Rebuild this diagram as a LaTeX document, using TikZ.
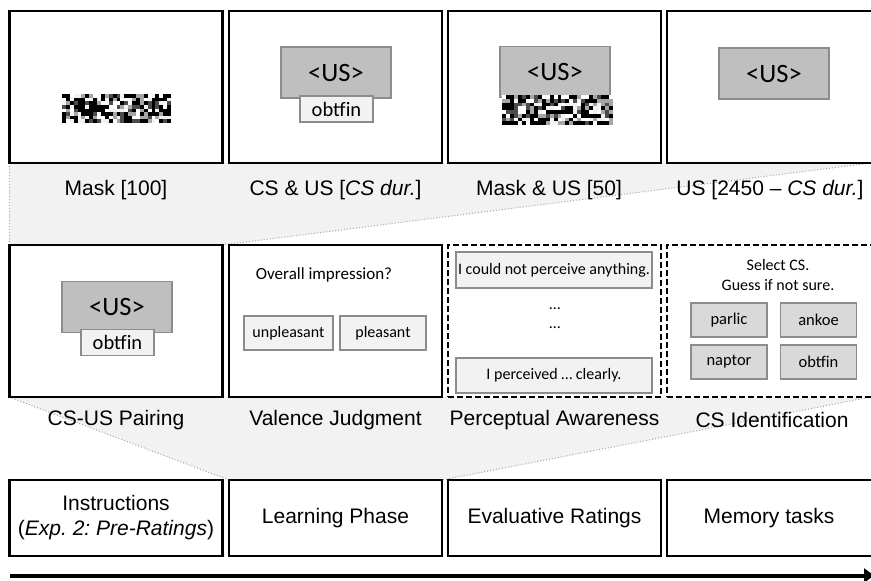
\documentclass[tikz,border=0pt]{standalone}
\usepackage{fontspec}
\setmainfont{Liberation Sans}
\newfontfamily\calfont{Carlito}
\usetikzlibrary{arrows.meta}
\frenchspacing
\definecolor{bandgray}{HTML}{F2F2F2}
\definecolor{usfill}{HTML}{BFBFBF}
\definecolor{edgegray}{HTML}{8C8C8C}
\definecolor{optfill}{HTML}{F2F2F2}
\definecolor{csfill}{HTML}{D9D9D9}
\definecolor{dotgray}{HTML}{A6A6A6}
\tikzset{
  screen/.style={draw=black, line width=2.6pt, minimum width=213pt, minimum height=152pt, inner sep=0pt},
  dscreen/.style={screen, dash pattern=on 6pt off 3pt},
  phase/.style={draw=black, line width=2.6pt, minimum width=213pt, minimum height=76pt, inner sep=0pt, align=center, font=\fontsize{21}{25}\selectfont},
  lbl/.style={font=\fontsize{21}{25}\selectfont, inner sep=0pt},
  usbox/.style={draw=edgegray, fill=usfill, line width=1.6pt, minimum width=110pt, minimum height=51pt, inner sep=0pt, font=\calfont\fontsize{26.5}{30}\selectfont},
  csbox/.style={draw=edgegray, fill=optfill, line width=1.6pt, minimum width=73pt, minimum height=26pt, inner sep=0pt, font=\calfont\fontsize{20.5}{24}\selectfont},
  optbox/.style={draw=edgegray, fill=optfill, line width=1.6pt, inner sep=0pt, font=\calfont\fontsize{16}{19}\selectfont},
  idbox/.style={draw=edgegray, fill=csfill, line width=1.6pt, minimum width=76pt, minimum height=34pt, inner sep=0pt, font=\calfont\fontsize{16.5}{19}\selectfont},
  smalltxt/.style={font=\calfont\fontsize{16}{19}\selectfont, inner sep=0pt, align=center},
  zoomline/.style={draw=dotgray, line width=1pt, dotted},
}
\newcommand{\maskpatch}[5]{% x0 y0 width height seed
  \pgfmathsetseed{#5}
  \pgfmathsetmacro\cw{#3/28}
  \pgfmathsetmacro\ch{#4/8}
  \foreach \i in {0,...,27}{
    \foreach \j in {0,...,7}{
      \pgfmathsetmacro\gv{int({0,5,35,70,100,100,100}[int(7*rnd)])}
      \fill[black!\gv] ({#1+\i*\cw},{#2+\j*\ch}) rectangle ++(\cw+0.3,\ch+0.3);
    }
  }
}
\begin{document}
\begin{tikzpicture}[x=1pt,y=-1pt]
\useasboundingbox (0,0) rectangle (871,581);
\clip (0,0) rectangle (871,581);
\fill[white] (0,0) rectangle (871,581);

% zoom bands
\coordinate (z1a) at (9,163);
\coordinate (z1b) at (871,163);
\coordinate (z1c) at (222,245);
\coordinate (z1d) at (9,245);
\fill[bandgray] (z1a) -- (z1b) -- (z1c) -- (z1d) -- cycle;
\draw[zoomline] (z1a) -- (z1d);
\draw[zoomline] (z1c) -- (z1b);

\coordinate (z2a) at (9,397);
\coordinate (z2b) at (871,397);
\coordinate (z2c) at (442,480);
\coordinate (z2d) at (229,480);
\fill[bandgray] (z2a) -- (z2b) -- (z2c) -- (z2d) -- cycle;
\draw[zoomline] (z2a) -- (z2d);
\draw[zoomline] (z2b) -- (z2c);

% top row
\node[screen, fill=white] (t1) at (116,87) {};
\node[screen, fill=white] (t2) at (335.5,87) {};
\node[screen, fill=white] (t3) at (554.5,87) {};
\node[screen, fill=white] (t4) at (773.5,87) {};
\maskpatch{62}{94}{109}{29}{7}
\node[usbox] (t2us) at (336,72.5) {<US>};
\node[csbox] (t2cs) at (336.5,109) {obtfin};
\node[usbox] (t3us) at (555,72) {<US>};
\maskpatch{502}{95}{111}{30}{23}
\node[usbox] (t4us) at (774,73.5) {<US>};

\node[lbl] (l1) at (116,190) {Mask [100]};
\node[lbl] (l2) at (335.5,190) {CS \& US [\textit{CS dur.}]};
\node[lbl] (l3) at (549,190) {Mask \& US [50]};
\node[lbl] (l4) at (770,190) {US [2450 -- \textit{CS dur.}]};

% middle row
\node[screen, fill=white] (m1) at (116,321) {};
\node[screen, fill=white] (m2) at (335.5,321) {};
\node[dscreen, fill=white] (m3) at (554.5,321) {};
\node[dscreen, fill=white] (m4) at (773.5,321) {};

\node[usbox] (m1us) at (117,307) {<US>};
\node[csbox] (m1cs) at (117.5,342.5) {obtfin};

\node[smalltxt, font=\calfont\fontsize{17}{20}\selectfont] (q2) at (324,275) {Overall impression?};
\node[optbox, minimum width=89pt, minimum height=34pt] (unp) at (288.5,333) {unpleasant};
\node[optbox, minimum width=86pt, minimum height=34pt] (ple) at (383,333) {pleasant};

\node[optbox, minimum width=196pt, minimum height=36pt] (pa1) at (554,270) {I could not perceive anything.};
\node[smalltxt] (pd1) at (555,309) {\ldots};
\node[smalltxt] (pd2) at (555,328) {\ldots};
\node[optbox, minimum width=196pt, minimum height=35pt] (pa2) at (554,375.5) {I perceived \ldots\ clearly.};

\node[smalltxt] (sel) at (778,275.5) {Select CS.\\[1pt]Guess if not sure.};
\node[idbox] (c1) at (729,320) {parlic};
\node[idbox] (c2) at (818.5,320) {ankoe};
\node[idbox] (c3) at (729,362) {naptor};
\node[idbox] (c4) at (818.5,362) {obtfin};

\node[lbl] (n1) at (116,420) {CS-US Pairing};
\node[lbl] (n2) at (335.5,420) {Valence Judgment};
\node[lbl] (n3) at (554.5,420) {Perceptual Awareness};
\node[lbl] (n4) at (772,420) {CS Identification};

% bottom row
\node[phase, fill=white] (b1) at (116,518) {Instructions\\(\textit{Exp. 2: Pre-Ratings})};
\node[phase, fill=white] (b2) at (335.5,518) {Learning Phase};
\node[phase, fill=white] (b3) at (554.5,518) {Evaluative Ratings};
\node[phase, fill=white] (b4) at (773.5,518) {\hspace*{-9pt}Memory tasks};

% time arrow
\coordinate (a1) at (10,575.5);
\coordinate (a2) at (874,575.5);
\draw[line width=4pt, -{Triangle[length=10pt,width=14pt]}] (a1) -- (a2);
\end{tikzpicture}
\end{document}
